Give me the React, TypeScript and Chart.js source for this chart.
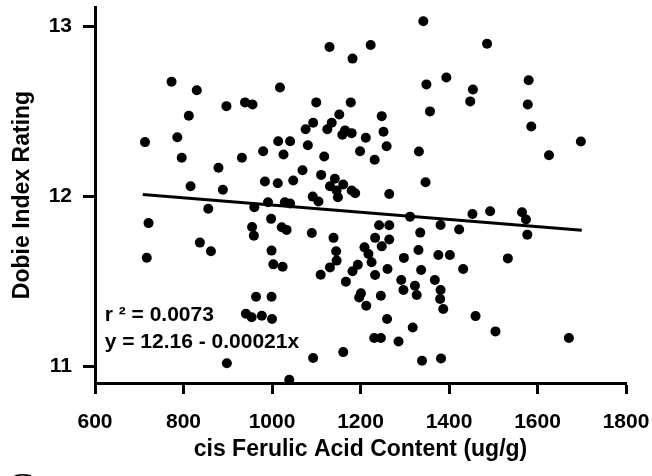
import React, { useEffect, useRef } from "react";
import { Chart, registerables } from "chart.js";

Chart.register(...registerables);

// cis Ferulic Acid Content (ug/g)
const cisFerulic = [
  773, 830, 1018, 897, 939, 956, 812, 713, 786, 1014,
  796, 879, 932, 980, 1026, 816, 889, 984, 1013, 991,
  1029, 1041, 1342, 1130, 1223, 1182, 1349, 1100, 1178, 1152,
  1248, 1093, 1135, 1076, 1125, 1165, 1180, 1159, 1252, 1212,
  1041, 1081, 1259, 1332, 1118, 1199, 1232, 1069, 1048, 1111,
  1142, 1131, 1161, 1146, 1180, 1188, 1265, 1347, 1092, 1105,
  1486, 1394, 1454, 1448, 1357, 1580, 1578, 1586, 1698, 1626,
  1149, 856, 721, 837, 862, 717, 955, 959, 960, 998,
  999, 1003, 1024, 964, 999, 941, 954, 977, 1000, 898,
  1093, 1039, 1022, 1033, 1090, 1110, 1131, 1139, 1242, 1265,
  1233, 1265, 1335, 1145, 1209, 1218, 1225, 1248, 1331, 1298,
  1146, 1194, 1182, 1233, 1261, 1337, 1167, 1292, 1297, 1323,
  1327, 1201, 1197, 1246, 1213, 1260, 1318, 1231, 1246, 1286,
  1161, 1339, 1382, 1312, 1453, 1493, 1565, 1574, 1381, 1423,
  1577, 1376, 1402, 1533, 1432, 1368, 1381, 1380, 1387, 1460,
  1505, 1671,
];

// Dobie Index Rating
const dobieRating = [
  12.675, 12.625, 12.641, 12.531, 12.553, 12.541, 12.474, 12.319, 12.348, 12.324,
  12.227, 12.168, 12.227, 12.265, 12.246, 12.059, 12.038, 12.087, 12.077, 11.965,
  11.965, 11.957, 13.031, 12.879, 12.891, 12.811, 12.659, 12.553, 12.553, 12.482,
  12.472, 12.433, 12.433, 12.395, 12.395, 12.388, 12.372, 12.362, 12.38, 12.345,
  12.324, 12.301, 12.295, 12.264, 12.234, 12.265, 12.215, 12.153, 12.093, 12.126,
  12.103, 12.059, 12.069, 12.034, 12.034, 12.018, 12.013, 12.083, 11.998, 11.969,
  12.899, 12.7, 12.629, 12.559, 12.5, 12.683, 12.541, 12.411, 12.323, 12.242,
  11.994, 11.926, 11.842, 11.727, 11.676, 11.638, 11.819, 11.768, 11.935, 11.867,
  11.68, 11.599, 11.585, 11.408, 11.408, 11.308, 11.287, 11.296, 11.277, 11.016,
  11.047, 10.919, 11.818, 11.802, 11.784, 11.538, 11.581, 11.755, 11.829, 11.829,
  11.755, 11.745, 11.786, 11.676, 11.699, 11.66, 11.611, 11.705, 11.684, 11.637,
  11.621, 11.597, 11.558, 11.536, 11.572, 11.566, 11.497, 11.507, 11.448, 11.473,
  11.418, 11.428, 11.404, 11.414, 11.355, 11.277, 11.227, 11.165, 11.165, 11.145,
  11.082, 11.031, 11.045, 11.88, 11.896, 11.912, 11.906, 11.863, 11.831, 11.804,
  11.774, 11.654, 11.654, 11.634, 11.572, 11.507, 11.448, 11.395, 11.336, 11.294,
  11.204, 11.165,
];

// regression line end points
const fitX = [708, 1700];
const fitY = [12.01, 11.8];

const xTicks = [600, 800, 1000, 1200, 1400, 1600, 1800];
const yTicks = [11, 12, 13];

const annotationLines = ["r \u00B2 = 0.0073", "y = 12.16 - 0.00021x"];
const annotationX = 622;
const annotationY = [11.263, 11.109];

const FONT = "'Liberation Sans', Arial, Helvetica, sans-serif";

export default function App() {
  const ref = useRef<HTMLCanvasElement | null>(null);

  useEffect(() => {
    const canvas = ref.current;
    if (!canvas) return;

    const textPlugin = {
      id: "annot",
      afterDatasetsDraw(chart: any) {
        const ctx = chart.ctx;
        const xs = chart.scales.x;
        const ys = chart.scales.y;
        ctx.save();
        ctx.fillStyle = "#000";
        ctx.font = `bold 21px ${FONT}`;
        ctx.textAlign = "left";
        ctx.textBaseline = "alphabetic";
        annotationLines.forEach((t, i) => {
          ctx.fillText(t, xs.getPixelForValue(annotationX), ys.getPixelForValue(annotationY[i]));
        });
        ctx.font = "40px 'Liberation Serif', 'Times New Roman', serif";
        ctx.fillText("C", 7, 500);
        ctx.restore();
      },
    };

    const chart = new Chart(canvas, {
      type: "scatter",
      data: {
        datasets: [
          {
            type: "line" as any,
            data: fitX.map((x, i) => ({ x, y: fitY[i] })),
            borderColor: "#000",
            borderWidth: 3,
            pointRadius: 0,
            fill: false,
          },
          {
            data: cisFerulic.map((x, i) => ({ x, y: dobieRating[i] })),
            backgroundColor: "#000",
            borderColor: "#000",
            borderWidth: 0,
            pointRadius: 5,
          },
        ],
      },
      options: {
        responsive: false,
        animation: false,
        devicePixelRatio: 1,
        layout: { padding: { left: 0, right: 26, top: 7, bottom: 0 } },
        plugins: {
          legend: { display: false },
          tooltip: { enabled: false },
        },
        scales: {
          x: {
            type: "linear",
            min: 600,
            max: 1800,
            afterBuildTicks: (s: any) => {
              s.ticks = xTicks.map((v) => ({ value: v }));
            },
            afterFit: (s: any) => {
              s.height = 93;
              s.paddingLeft = 0;
              s.paddingRight = 0;
            },
            ticks: {
              color: "#000",
              font: { family: FONT, size: 21, weight: "bold" },
              padding: 16,
              maxRotation: 0,
              callback: (v: any) => String(v),
            },
            grid: {
              display: true,
              drawOnChartArea: false,
              drawTicks: true,
              tickLength: 11,
              tickWidth: 3,
              tickColor: "#000",
            },
            border: { display: true, color: "#000", width: 3 },
            title: {
              display: true,
              text: "cis Ferulic Acid Content (ug/g)",
              color: "#000",
              font: { family: FONT, size: 23, weight: "bold" },
              padding: { top: 0, bottom: 13 },
            },
          },
          y: {
            type: "linear",
            min: 10.9,
            max: 13.115,
            afterBuildTicks: (s: any) => {
              s.ticks = yTicks.map((v) => ({ value: v }));
            },
            afterFit: (s: any) => {
              s.width = 95;
              s.paddingTop = 0;
              s.paddingBottom = 0;
            },
            ticks: {
              color: "#000",
              font: { family: FONT, size: 21, weight: "bold" },
              padding: 11,
              callback: (v: any) => String(v),
            },
            grid: {
              display: true,
              drawOnChartArea: false,
              drawTicks: true,
              tickLength: 12,
              tickWidth: 3,
              tickColor: "#000",
            },
            border: { display: true, color: "#000", width: 3 },
            title: {
              display: true,
              text: "Dobie Index Rating",
              color: "#000",
              font: { family: FONT, size: 23, weight: "bold" },
              padding: { top: 9, bottom: 0 },
            },
          },
        },
      },
      plugins: [textPlugin],
    });

    return () => chart.destroy();
  }, []);

  return (
    <div style={{ position: "fixed", left: 0, top: 0, width: 652, height: 476, background: "#fff" }}>
      <canvas ref={ref} width={652} height={476} style={{ display: "block" }} />
    </div>
  );
}
